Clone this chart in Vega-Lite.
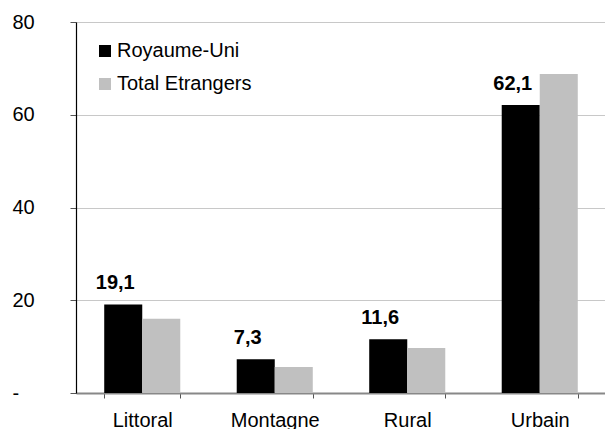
{
  "$schema": "https://vega.github.io/schema/vega-lite/v6.json",
  "width": 530,
  "height": 371,
  "autosize": {"type": "none"},
  "padding": {"left": 76, "top": 22, "right": 0, "bottom": 36},
  "background": "white",
  "config": {
    "view": {"stroke": null},
    "font": "Liberation Sans",
    "locale": {"number": {"decimal": ",", "thousands": " ", "grouping": [3], "currency": ["", " €"]}}
  },
  "data": {
    "values": [
      {"zone": "Littoral", "serie": "Royaume-Uni", "valeur": 19.1},
      {"zone": "Littoral", "serie": "Total Etrangers", "valeur": 16.0},
      {"zone": "Montagne", "serie": "Royaume-Uni", "valeur": 7.3},
      {"zone": "Montagne", "serie": "Total Etrangers", "valeur": 5.6},
      {"zone": "Rural", "serie": "Royaume-Uni", "valeur": 11.6},
      {"zone": "Rural", "serie": "Total Etrangers", "valeur": 9.7},
      {"zone": "Urbain", "serie": "Royaume-Uni", "valeur": 62.1},
      {"zone": "Urbain", "serie": "Total Etrangers", "valeur": 68.8}
    ]
  },
  "encoding": {
    "x": {
      "field": "zone",
      "type": "nominal",
      "sort": null,
      "scale": {"paddingInner": 0.426, "paddingOuter": 0.213},
      "axis": {
        "title": null,
        "labelAngle": 0,
        "labelFontSize": 20,
        "labelColor": "black",
        "labelPadding": 12,
        "tickBand": "extent",
        "tickSize": 5,
        "tickColor": "#555555",
        "domainColor": "#888888",
        "domainWidth": 2,
        "grid": false
      }
    },
    "xOffset": {"field": "serie", "type": "nominal", "scale": {"paddingInner": 0, "paddingOuter": 0}},
    "y": {
      "field": "valeur",
      "type": "quantitative",
      "scale": {"domain": [0, 80], "nice": false},
      "axis": {
        "title": null,
        "values": [0, 20, 40, 60, 80],
        "labelExpr": "datum.value == 0 ? '-' : datum.label",
        "labelFontSize": 20,
        "labelColor": "black",
        "labelAlign": "left",
        "labelPadding": 58,
        "tickSize": 6,
        "tickColor": "#555555",
        "domainColor": "black",
        "domainWidth": 1.2,
        "gridColor": "#c8c8c8",
        "gridWidth": 1
      }
    }
  },
  "layer": [
    {
      "mark": {"type": "bar"},
      "encoding": {
        "color": {
          "field": "serie",
          "type": "nominal",
          "scale": {"domain": ["Royaume-Uni", "Total Etrangers"], "range": ["#000000", "#c0c0c0"]},
          "legend": {
            "title": null,
            "orient": "none",
            "legendX": 19,
            "legendY": 19,
            "symbolType": "square",
            "symbolSize": 144,
            "symbolStrokeWidth": 0,
            "labelFontSize": 20,
            "labelColor": "black",
            "labelOffset": 2,
            "rowPadding": 13
          }
        }
      }
    },
    {
      "transform": [{"filter": "datum.serie == 'Royaume-Uni'"}],
      "mark": {"type": "text", "fontWeight": "bold", "fontSize": 20, "baseline": "alphabetic", "dy": -15, "dx": -8, "color": "black"},
      "encoding": {
        "text": {"field": "valeur", "type": "quantitative", "format": ".1f"}
      }
    }
  ]
}
